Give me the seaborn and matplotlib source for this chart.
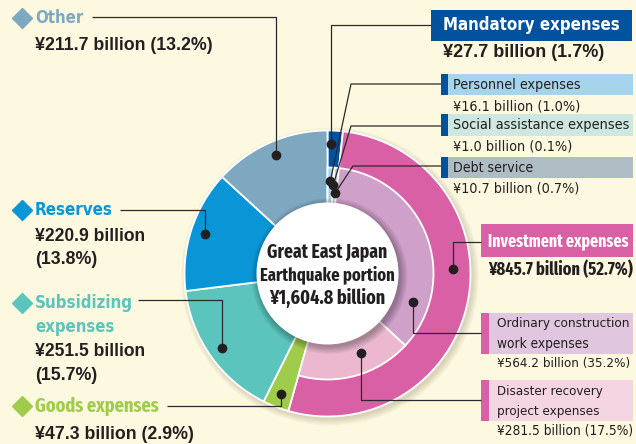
import os
import numpy as np
import matplotlib
matplotlib.use("Agg")
import matplotlib.pyplot as plt
from matplotlib.patches import Circle, Rectangle
from matplotlib import font_manager as fm
import seaborn as sns

# Great East Japan Earthquake portion of the budget, billions of yen
main_items = ["Mandatory expenses", "Investment expenses", "Goods expenses",
              "Subsidizing\nexpenses", "Reserves", "Other"]
main_values = [27.7, 845.7, 47.3, 251.5, 220.9, 211.7]

sub_items = ["Personnel expenses", "Social assistance expenses", "Debt service",
             "Ordinary construction\nwork expenses",
             "Disaster recovery\nproject expenses"]
sub_values = [16.1, 1.0, 10.7, 564.2, 281.5]

center_lines = ["Great East Japan", "Earthquake portion"]

# colours
main_colors = ["#00529f", "#da60a6", "#a0cc4b", "#5bc4bc", "#0a96d6", "#7ea8bf"]
sub_colors = ["#a3d2ea", "#cae6df", "#aebdc5", "#cfa0c9", "#ebb8d0"]
sub_box_colors = ["#a6d4ec", "#cfe7e1", "#aebcc4", "#e1c6df", "#f5d5e2"]
BG = "#fdf9e0"
INK = "#231f20"

sns.set_theme(style="white", rc={"axes.facecolor": BG, "figure.facecolor": BG})
plt.rcParams["font.family"] = ["Liberation Sans", "DejaVu Sans"]

SKIP = ("semibold", "extrabold", "semicondensed", "ultra", "italic", "oblique",
        "light", "thin", "medium", "black", "mono")


def face(bold, extra=False, fallback=None):
    """Look for a condensed / narrow sans face on the system."""
    files = sorted({f.fname for f in fm.fontManager.ttflist})
    for f in files:
        b = os.path.basename(f).lower()
        if extra:
            if "extracondensed" not in b:
                continue
        else:
            if not ("condensed" in b or "narrow" in b) or "extracondensed" in b:
                continue
        if any(k in b for k in SKIP):
            continue
        if bold == ("bold" in b):
            return fm.FontProperties(fname=f)
    if fallback is not None:
        return fallback
    return fm.FontProperties(family="Roboto", weight="bold" if bold else "normal")


FONTS = {"wide": fm.FontProperties(family="Liberation Sans", weight="bold")}
FONTS["nb"] = face(True)
FONTS["nr"] = face(False)
FONTS["xb"] = face(True, extra=True, fallback=FONTS["nb"])

W, H = 636, 444
fig = plt.figure(figsize=(W / 100, H / 100), dpi=100)
ax = fig.add_axes([0, 0, 1, 1])


def Y(y):
    """layout rows are measured from the top edge"""
    return H - y


cx, cy = 327.5, Y(273.5)
R_OUT, R_MID, R_IN = 143, 106, 71
total = sum(main_values)

# soft drop shadow under the ring
for k in range(7):
    ax.add_patch(Circle((cx + 2.5, cy - 3), R_OUT + 6 - k, color="#6b6040",
                        alpha=0.035, lw=0, zorder=0.5))

edge = dict(edgecolor="white", linewidth=1.3)
outer, _ = ax.pie(main_values, colors=main_colors, radius=R_OUT, center=(cx, cy),
                  startangle=90, counterclock=False,
                  wedgeprops=dict(width=R_OUT - R_IN + 3, **edge))

inner_vals = sub_values + [total - sum(sub_values)]
inner, _ = ax.pie(inner_vals, colors=sub_colors + ["none"], radius=R_MID,
                  center=(cx, cy), startangle=90, counterclock=False,
                  wedgeprops=dict(width=R_MID - R_IN + 3, **edge))
inner[-1].set_visible(False)

# shading round the centre disc
for k in range(8):
    ax.add_patch(Circle((cx + 2, cy - 2.5), R_IN + 7 - k, color="black",
                        alpha=0.04, lw=0, zorder=2))
ax.add_patch(Circle((cx, cy), R_IN, color="white", lw=0, zorder=3))

fitted = []   # (text artist, widest allowed width in px)


def write(x, row, s, size, width, color=INK, font="wide", ha="left"):
    t = ax.text(x, Y(row), s, fontproperties=FONTS[font], fontsize=size,
                color=color, ha=ha, va="center", zorder=6)
    fitted.append((t, width))
    return t


write(cx, 252, center_lines[0], 16, 120, font="xb", ha="center")
write(cx, 275, center_lines[1], 16, 134, font="xb", ha="center")
write(cx, 298, f"¥{total:,.1f} billion", 16, 116, font="xb", ha="center")


def money(v, sep=" "):
    return f"¥{v:,.1f} billion{sep}({v / total * 100:.1f}%)"


def polar(w, frac, r):
    a = np.deg2rad(w.theta2 - frac * (w.theta2 - w.theta1))
    return cx + r * np.cos(a), cy + r * np.sin(a)


def leader(w, frac, r, row, end_x, elbow=None):
    px, py = polar(w, frac, r)
    kx = px if elbow is None else elbow
    ax.plot([px, kx, end_x], [py, Y(row), Y(row)], color="#2a2a2a", lw=0.9,
            solid_capstyle="butt", zorder=5)
    ax.plot(px, py, "o", ms=6, color=INK, zorder=6)


# ---- left-hand categories (full-depth wedges) ----
left_specs = [
    # index, heading rows, heading widths, heading font, value rows, value widths,
    # line row, line start
    (5, [18], [48], "nb", [46], [178], 17, 92),
    (4, [210], [78], "nb", [237, 260], [110, 62], 210, 120),
    (3, [303, 327], [98, 79], "nb", [351, 375], [110, 62], 300, 138),
    (2, [406], [124], "xb", [434], [159], 406, 167),
]
for idx, head_rows, head_w, hfont, val_rows, val_w, line_row, line_x in left_specs:
    col = main_colors[idx]
    ax.plot(22, Y(head_rows[0]), marker="D", ms=10.5, color=col, ls="none", zorder=6)
    for row, part, w in zip(head_rows, main_items[idx].split("\n"), head_w):
        write(35, row, part, 14.5, w, color=col, font=hfont)
    v = main_values[idx]
    vparts = money(v, "\n").split("\n") if len(val_rows) == 2 else [money(v)]
    for row, part, w in zip(val_rows, vparts, val_w):
        write(35, row, part, 12.8, w)
    leader(outer[idx], 0.5, 129, line_row, line_x)

# ---- right-hand headline boxes ----
ax.add_patch(Rectangle((431, Y(41)), 201, 31, color=main_colors[0], lw=0, zorder=4))
write(443, 25.5, main_items[0], 14.5, 176, color="white", font="nb")
write(443, 53, money(main_values[0]), 13, 162)
leader(outer[0], 0.25, 130, 25, 431)

ax.add_patch(Rectangle((481, Y(257)), 152, 33, color=main_colors[1], lw=0, zorder=4))
write(488, 241, main_items[1], 15, 140, color="white", font="xb")
write(488, 270, money(main_values[1]), 14.5, 144, font="xb")
leader(outer[1], 0.43, 126, 242, 481)

# ---- breakdown boxes ----
sub_layout = [
    # box top, box bottom, text rows, text widths, value row, value width, bar colour, box left, text x
    (74, 95, [84.5], [128], 106, 127, main_colors[0], 441, 453),
    (114, 136, [125], [176], 146, 119, main_colors[0], 441, 453),
    (157, 178, [167.5], [80], 188, 126, main_colors[0], 441, 453),
    (313, 354, [324, 344], [132, 92], 364, 134, main_colors[1], 481, 497),
    (380, 421, [391, 411], [106, 103], 430, 136, main_colors[1], 481, 497),
]
dots = [(0.5, 93, 84, 351), (0.5, 89, 126, 351), (0.7, 81, 166, 353),
        (0.81, 90, 333, None), (0.39, 86, 400, None)]

for i, (top, bot, rows, widths, vrow, vw, bar, bx, tx) in enumerate(sub_layout):
    ax.add_patch(Rectangle((bx, Y(bot)), 633 - bx, bot - top,
                           color=sub_box_colors[i], lw=0, zorder=4))
    bar_w = 7 if bx == 441 else 8
    ax.add_patch(Rectangle((bx, Y(bot)), bar_w, bot - top, color=bar, lw=0, zorder=4))
    for row, part, w in zip(rows, sub_items[i].split("\n"), widths):
        write(tx, row, part, 12.5, w, font="nr")
    write(tx, vrow, money(sub_values[i]), 12.5, vw, font="nr")
    frac, r, row, elbow = dots[i]
    leader(inner[i], frac, r, row, bx, elbow)

ax.set_xlim(0, W)
ax.set_ylim(0, H)
ax.set_aspect("equal")
ax.axis("off")

# shrink any label that runs wider than its slot
fig.canvas.draw()
renderer = fig.canvas.get_renderer()
for t, width in fitted:
    w = t.get_window_extent(renderer).width
    if w > width:
        t.set_fontsize(t.get_fontsize() * width / w)

fig.savefig("out.png", dpi=100, facecolor=BG)
